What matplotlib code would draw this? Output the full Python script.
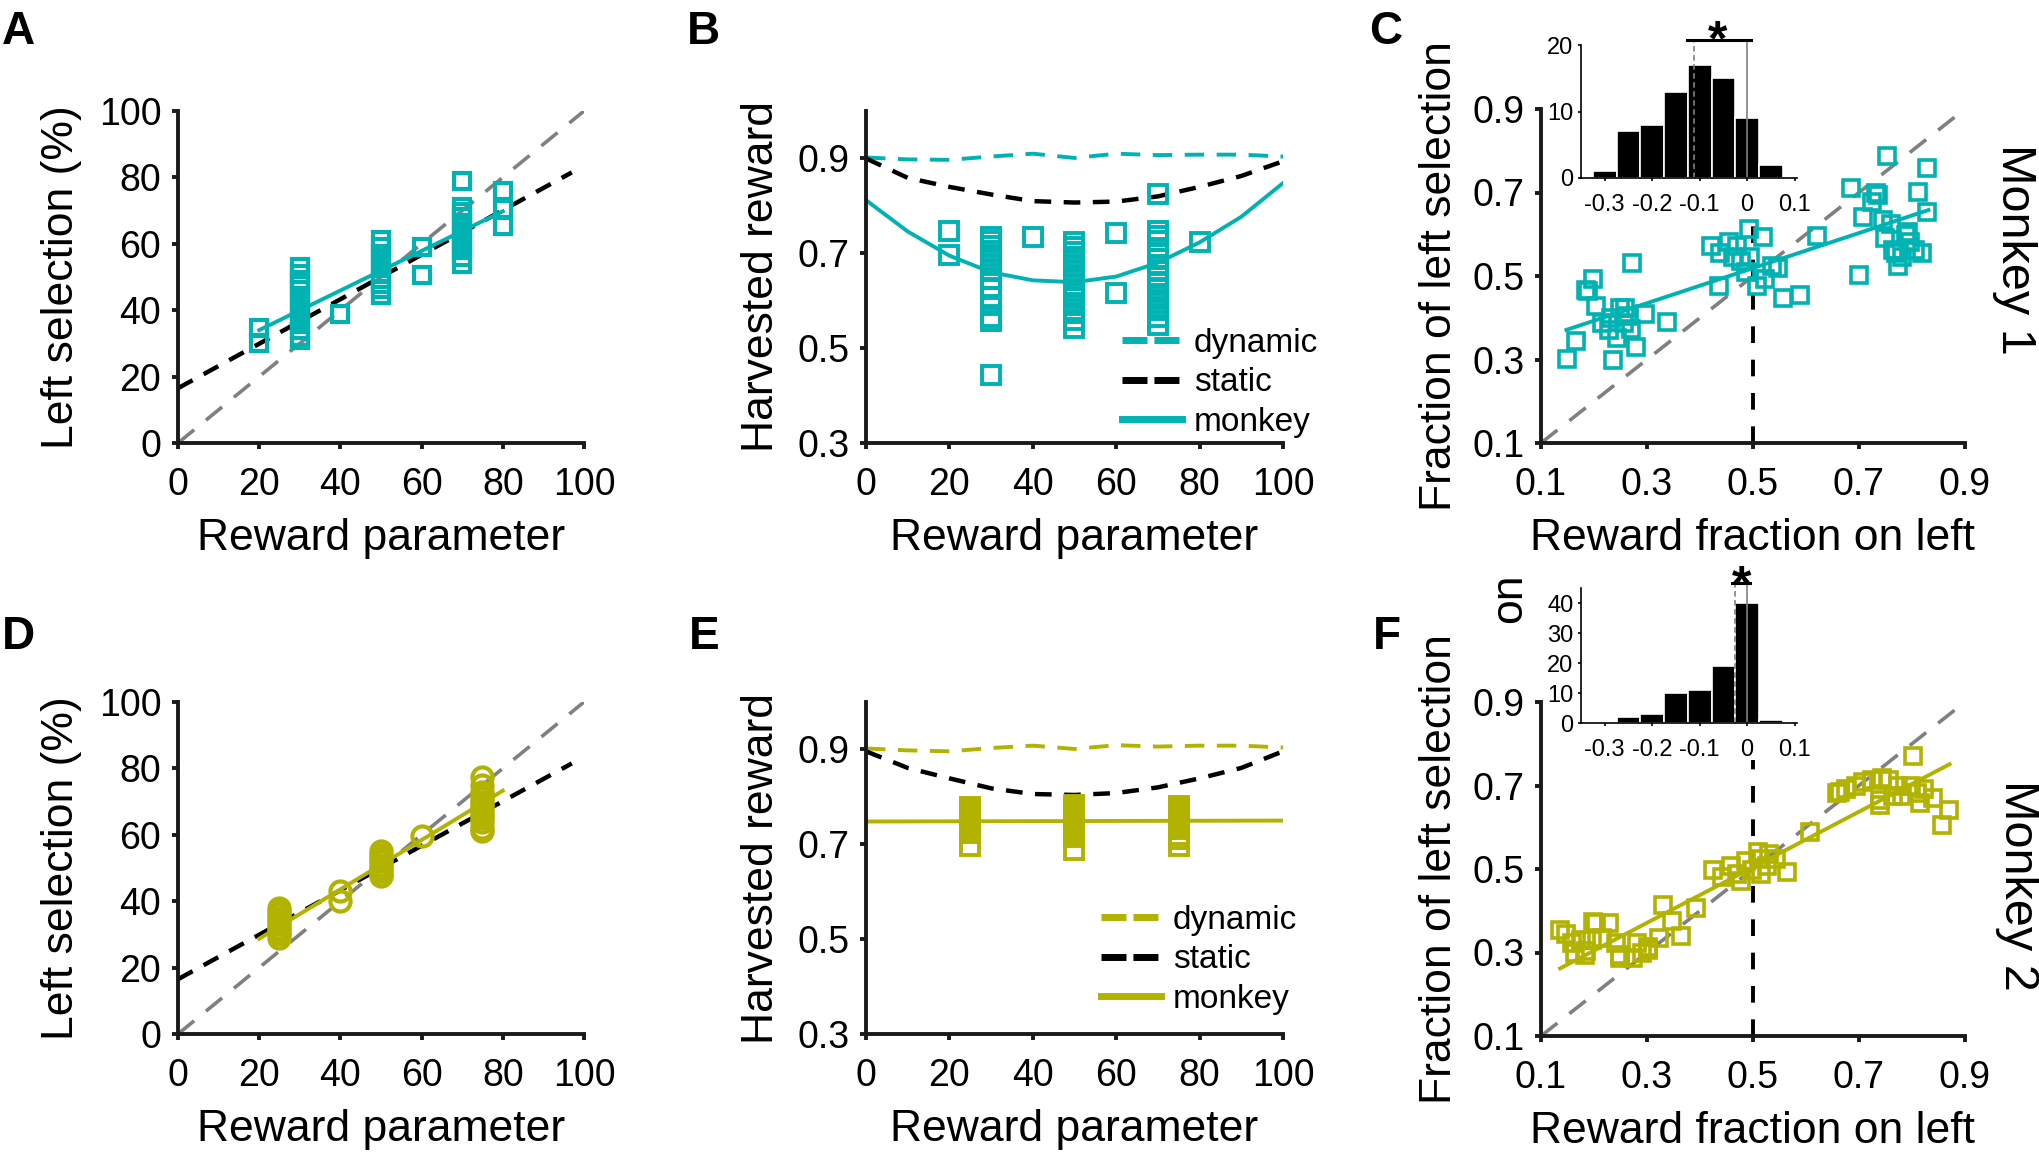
import matplotlib
matplotlib.use('Agg')
import matplotlib.pyplot as plt
import numpy as np

plt.rcParams['font.family'] = ['Liberation Sans', 'DejaVu Sans']
plt.rcParams['lines.scale_dashes'] = False

CYAN = '#00b2b2'
OLIVE = '#b2b200'
GRAY = '#808080'

# ---------------- data ----------------
# A: monkey 1, left selection (%) per reward parameter
a_levels = [20, 30, 40, 50, 60, 70, 80]
a_sel = [[34.5, 30],
         [53, 51, 49, 47.5, 46, 44, 42, 40, 38, 36, 34, 32, 31],
         [39],
         [61, 59, 57, 55, 53, 51, 49.5, 48, 46.5, 44.5],
         [59, 50.5],
         [79, 71, 69.5, 68, 66, 64, 62, 60, 58, 56, 54],
         [76, 70.5, 65.5]]
a_fit_x = [20, 80]
a_fit_y = [34.0, 69.8]

# D: monkey 2
d_levels = [25, 40, 50, 60, 75]
d_sel = [[38, 37, 36, 35, 34, 33, 32, 31, 30, 29],
         [43, 40],
         [55, 54, 53, 52, 51, 50, 49, 48, 47.5],
         [59.5],
         [77.5, 75, 73, 72, 71, 70, 69, 68, 67, 66, 65, 64, 62, 61]]
d_fit_x = [20, 80]
d_fit_y = [28.7, 73.3]

static_sel_x = [0, 97]
static_sel_y = [16.5, 81.5]
unity = [0, 100]

# B / E: harvested reward
model_x = [0, 10, 20, 30, 40, 50, 60, 70, 80, 90, 100]
b_dynamic = [0.902, 0.898, 0.897, 0.904, 0.910, 0.901, 0.910, 0.907, 0.908, 0.908, 0.904]
b_static = [0.900, 0.859, 0.840, 0.824, 0.810, 0.807, 0.809, 0.820, 0.840, 0.863, 0.894]
b_monkey = [0.812, 0.746, 0.695, 0.660, 0.643, 0.639, 0.651, 0.680, 0.723, 0.777, 0.848]
b_levels = [20, 30, 40, 50, 60, 70, 80]
b_rew = [[0.746, 0.697],
         [0.735, 0.725, 0.715, 0.705, 0.695, 0.685, 0.675, 0.665, 0.645, 0.625,
          0.607, 0.59, 0.565, 0.558, 0.444],
         [0.735],
         [0.723, 0.713, 0.703, 0.693, 0.683, 0.673, 0.663, 0.653, 0.643, 0.633,
          0.62, 0.605, 0.59, 0.575, 0.56, 0.543],
         [0.742, 0.617],
         [0.824, 0.747, 0.737, 0.725, 0.712, 0.70, 0.688, 0.676, 0.664, 0.652,
          0.64, 0.625, 0.61, 0.595, 0.58, 0.565, 0.548],
         [0.723]]

e_dynamic = [0.902, 0.898, 0.896, 0.903, 0.908, 0.901, 0.909, 0.906, 0.908, 0.908, 0.904]
e_static = [0.896, 0.861, 0.839, 0.818, 0.806, 0.804, 0.808, 0.820, 0.839, 0.861, 0.896]
e_monkey_x = [0, 100]
e_monkey = [0.748, 0.750]
e_levels = [25, 50, 75]
e_rew = [[0.778, 0.772, 0.766, 0.760, 0.754, 0.748, 0.742, 0.736, 0.730, 0.724, 0.696],
         [0.783, 0.776, 0.770, 0.764, 0.758, 0.752, 0.746, 0.740, 0.734, 0.728, 0.722,
          0.716, 0.689],
         [0.781, 0.775, 0.769, 0.763, 0.757, 0.751, 0.745, 0.739, 0.733, 0.720, 0.712,
          0.697]]

# C / F: fraction of left selection vs reward fraction on left
c_x = [0.149, 0.166, 0.184, 0.199, 0.204, 0.216, 0.232, 0.236, 0.249, 0.257, 0.244,
       0.272, 0.280, 0.270, 0.296, 0.337, 0.229, 0.265, 0.258, 0.189,
       0.436, 0.421, 0.438, 0.454, 0.470, 0.493, 0.519, 0.495, 0.478, 0.462, 0.507,
       0.536, 0.548, 0.556, 0.589, 0.620, 0.523, 0.486,
       0.685, 0.700, 0.708, 0.724, 0.736, 0.753, 0.745, 0.749, 0.761, 0.765, 0.773,
       0.781, 0.789, 0.797, 0.812, 0.828, 0.828, 0.818, 0.806, 0.733, 0.769, 0.793]
c_y = [0.301, 0.345, 0.467, 0.493, 0.427, 0.387, 0.400, 0.300, 0.423, 0.387, 0.352,
       0.530, 0.330, 0.374, 0.409, 0.389, 0.370, 0.405, 0.423, 0.463,
       0.475, 0.572, 0.555, 0.581, 0.572, 0.612, 0.594, 0.546, 0.537, 0.546, 0.475,
       0.524, 0.519, 0.447, 0.455, 0.596, 0.493, 0.510,
       0.710, 0.503, 0.642, 0.678, 0.695, 0.787, 0.633, 0.590, 0.625, 0.563, 0.523,
       0.546, 0.598, 0.581, 0.702, 0.758, 0.654, 0.555, 0.563, 0.698, 0.555, 0.606]
c_fit_x = [0.148, 0.831]
c_fit_y = [0.371, 0.658]
c_mid_y = [0.1, 0.62]

f_x = [0.136, 0.147, 0.159, 0.175, 0.184, 0.204, 0.229, 0.216, 0.241, 0.249, 0.274,
       0.290, 0.302, 0.323, 0.331, 0.347, 0.364, 0.392, 0.282, 0.196, 0.183, 0.164,
       0.199, 0.302, 0.249,
       0.425, 0.441, 0.458, 0.470, 0.486, 0.499, 0.511, 0.527, 0.544, 0.564, 0.608,
       0.478, 0.515, 0.510, 0.530,
       0.658, 0.675, 0.695, 0.708, 0.724, 0.740, 0.744, 0.757, 0.773, 0.781, 0.802,
       0.798, 0.810, 0.822, 0.839, 0.869, 0.856, 0.765, 0.664, 0.740, 0.815]
f_y = [0.353, 0.344, 0.322, 0.331, 0.304, 0.370, 0.370, 0.335, 0.322, 0.295, 0.287,
       0.300, 0.313, 0.335, 0.414, 0.375, 0.339, 0.406, 0.322, 0.330, 0.294, 0.298,
       0.374, 0.306, 0.286,
       0.498, 0.480, 0.507, 0.489, 0.520, 0.498, 0.524, 0.507, 0.524, 0.494, 0.589,
       0.471, 0.489, 0.540, 0.535,
       0.683, 0.691, 0.700, 0.709, 0.713, 0.665, 0.718, 0.713, 0.700, 0.674, 0.771,
       0.700, 0.683, 0.691, 0.669, 0.641, 0.605, 0.674, 0.685, 0.653, 0.657]
f_fit_x = [0.136, 0.871]
f_fit_y = [0.262, 0.751]
f_mid_y = [0.1, 0.76]
diag = [0.1, 0.9]

# insets: histograms of bias
hist_bins = [-0.3, -0.25, -0.2, -0.15, -0.1, -0.05, 0.0, 0.05]
c_counts = [1, 7, 8, 13, 17, 15, 9, 2]
f_counts = [0, 2, 3, 10, 11, 19, 40, 1]
c_mean, f_mean = -0.113, -0.026
c_sig = [-0.127, 0.009]
f_sig = [-0.031, 0.005]

# ---------------- figure ----------------
W, H = 2040, 1152
fig = plt.figure(figsize=(W / 100, H / 100), dpi=100)


def px_axes(x0, x1, ytop, ybot):
    return fig.add_axes([x0 / W, 1 - ybot / H, (x1 - x0) / W, (ybot - ytop) / H])


def expand(levels, vals):
    xs = np.repeat(levels, [len(v) for v in vals])
    return xs, np.concatenate(vals)


def style(ax, xlab, ylab, ylab_x, xlab_y=-0.225):
    for s in ['top', 'right']:
        ax.spines[s].set_visible(False)
    for s in ['left', 'bottom']:
        ax.spines[s].set_linewidth(2.8)
        ax.spines[s].set_color('#1a1a1a')
    ax.tick_params(direction='out', length=4, width=2.8, labelsize=27, color='#1a1a1a')
    ax.tick_params(axis='x', pad=13)
    ax.tick_params(axis='y', pad=8)
    ax.set_xlabel(xlab, fontsize=32)
    ax.set_ylabel(ylab, fontsize=32)
    ax.xaxis.set_label_coords(0.5, xlab_y)
    ax.yaxis.set_label_coords(ylab_x, 0.5)


def selection_panel(ax, levels, vals, marker, ms, color, fit_x, fit_y):
    ax.plot(unity, unity, color=GRAY, lw=2.6, dashes=(15, 11))
    ax.plot(static_sel_x, static_sel_y, color='black', lw=3.2, dashes=(12, 9))
    xs, ys = expand(levels, vals)
    ax.plot(xs, ys, ls='none', marker=marker, ms=ms, mew=3.0, mfc='none', mec=color)
    ax.plot(fit_x, fit_y, color=color, lw=2.8)
    ax.set_xlim(0, 100)
    ax.set_ylim(0, 100)
    ax.set_xticks([0, 20, 40, 60, 80, 100])
    ax.set_yticks([0, 20, 40, 60, 80, 100])
    style(ax, 'Reward parameter', 'Left selection (%)', -0.236)


def reward_panel(ax, dyn, stat, mon_x, mon, levels, vals, color, leg_top):
    ax.plot(model_x, dyn, color=color, lw=2.8, dashes=(14, 9), label='dynamic')
    ax.plot(model_x, stat, color='black', lw=3.2, dashes=(12, 9), label='static')
    ax.plot(mon_x, mon, color=color, lw=2.8, label='monkey')
    xs, ys = expand(levels, vals)
    ax.plot(xs, ys, ls='none', marker='s', ms=12.5, mew=2.8, mfc='none', mec=color)
    ax.set_xlim(0, 100)
    ax.set_ylim(0.3, 1.0)
    ax.set_xticks([0, 20, 40, 60, 80, 100])
    ax.set_yticks([0.3, 0.5, 0.7, 0.9])
    ax.set_yticklabels(['0.3', '0.5', '0.7', '0.9'])
    style(ax, 'Reward parameter', 'Harvested reward', -0.201)
    leg = ax.legend(loc='upper left', bbox_to_anchor=(leg_top[0] / W, 1 - leg_top[1] / H),
                    bbox_transform=fig.transFigure, frameon=False, fontsize=24,
                    handlelength=1.8, handletextpad=0.35, labelspacing=0.25,
                    borderpad=0, borderaxespad=0)
    for i, ln in enumerate(leg.get_lines()):
        ln.set_linewidth(5)
        if i < 2:
            ln.set_dashes((18, 5))


def fraction_panel(ax, x, y, color, fit_x, fit_y, mid_y):
    ax.plot(diag, diag, color=GRAY, lw=2.6, dashes=(15, 11))
    ax.plot([0.5, 0.5], mid_y, color='black', lw=2.8, dashes=(12, 12))
    ax.plot(x, y, ls='none', marker='s', ms=12, mew=2.6, mfc='none', mec=color)
    ax.plot(fit_x, fit_y, color=color, lw=2.8)
    ax.set_xlim(0.1, 0.9)
    ax.set_ylim(0.1, 0.9)
    t = [0.1, 0.3, 0.5, 0.7, 0.9]
    ax.set_xticks(t)
    ax.set_yticks(t)
    ax.set_xticklabels([str(v) for v in t])
    ax.set_yticklabels([str(v) for v in t])
    style(ax, 'Reward fraction on left', 'Fraction of left selection', -0.191)


def hist_inset(ytop, ybot, counts, mean, sig, ymax, yticks):
    ax = px_axes(1581, 1797, ytop, ybot)
    ax.patch.set_alpha(0)
    ax.bar(hist_bins, counts, width=0.05, color='black', edgecolor='white', linewidth=1.2)
    bar_y = ymax * 1.035
    ax.plot([mean, mean], [0, bar_y], color=GRAY, lw=1.2, dashes=(4, 2.5), clip_on=False)
    ax.plot([0, 0], [0, bar_y], color=GRAY, lw=1.2, clip_on=False)
    ax.plot(sig, [bar_y, bar_y], color='black', lw=2.2, clip_on=False)
    ax.set_xlim(-0.35, 0.105)
    ax.set_ylim(0, ymax)
    ax.set_xticks([-0.3, -0.2, -0.1, 0, 0.1])
    ax.set_xticklabels(['-0.3', '-0.2', '-0.1', '0', '0.1'])
    ax.set_yticks(yticks)
    for s in ['top', 'right']:
        ax.spines[s].set_visible(False)
    for s in ['left', 'bottom']:
        ax.spines[s].set_linewidth(1.2)
    ax.tick_params(direction='out', length=2.5, width=1.2, labelsize=17)
    ax.tick_params(axis='x', pad=9)
    ax.tick_params(axis='y', pad=3)
    return ax


# panel A
axA = px_axes(178, 584, 111, 443)
selection_panel(axA, a_levels, a_sel, 's', 12, CYAN, a_fit_x, a_fit_y)

# panel D
axD = px_axes(178, 584, 702, 1034)
selection_panel(axD, d_levels, d_sel, 'o', 14.5, OLIVE, d_fit_x, d_fit_y)

# panel B
axB = px_axes(866, 1283, 111, 443)
reward_panel(axB, b_dynamic, b_static, model_x, b_monkey, b_levels, b_rew, CYAN, (1122, 328))

# panel E
axE = px_axes(866, 1283, 702, 1034)
reward_panel(axE, e_dynamic, e_static, e_monkey_x, e_monkey, e_levels, e_rew, OLIVE, (1101, 905))

# panel C
axC = px_axes(1541, 1965, 109, 443)
fraction_panel(axC, c_x, c_y, CYAN, c_fit_x, c_fit_y, c_mid_y)

# panel F
axF = px_axes(1541, 1965, 702, 1036)
fraction_panel(axF, f_x, f_y, OLIVE, f_fit_x, f_fit_y, f_mid_y)

# insets
hist_inset(45, 178, c_counts, c_mean, c_sig, 20, [0, 10, 20])
hist_inset(588, 723, f_counts, f_mean, f_sig, 45, [0, 10, 20, 30, 40])

# significance stars
fig.text(1718 / W, 1 - 55 / H, '*', ha='center', va='baseline', fontsize=36, fontweight='bold')
fig.text(1742 / W, 1 - 600 / H, '*', ha='center', va='baseline', fontsize=36, fontweight='bold')

# stray label fragment
fig.text(1510 / W, 1 - 598 / H, 'on', rotation=90, ha='center', va='center', fontsize=32)

# monkey labels
fig.text(2015 / W, 1 - 249 / H, 'Monkey 1', rotation=-90, ha='center', va='center', fontsize=35)
fig.text(2018 / W, 1 - 885 / H, 'Monkey 2', rotation=-90, ha='center', va='center', fontsize=35)

# panel letters
for lab, x, y in [('A', 2, 44), ('B', 687, 44), ('C', 1369, 44),
                  ('D', 2, 649), ('E', 689, 649), ('F', 1373, 649)]:
    fig.text(x / W, 1 - y / H, lab, ha='left', va='baseline', fontsize=33, fontweight='bold')

fig.savefig('out.png', dpi=100)
